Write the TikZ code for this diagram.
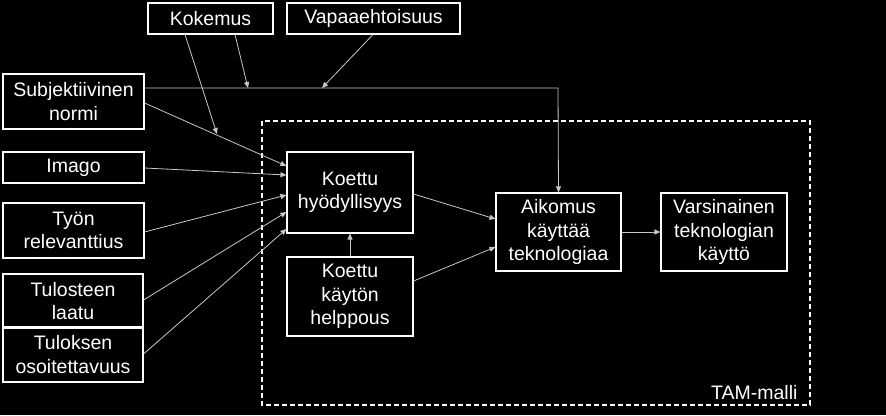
\documentclass[tikz,border=0pt]{standalone}
\usepackage{fontspec}
\setmainfont{Liberation Sans}
\usetikzlibrary{arrows.meta}
\tikzset{
  box/.style={draw=white, line width=1.1pt, text=white, align=center, inner sep=0pt,
    font=\fontsize{19.5}{23.5}\selectfont},
  conn/.style={draw={rgb,255:red,200;green,200;blue,200}, line width=0.8pt,
    -{Triangle[length=6pt,width=5pt]}},
  tam/.style={draw=white, line width=1.2pt, dash pattern=on 5pt off 3pt}
}
\begin{document}
\begin{tikzpicture}[x=1pt,y=-1pt]
\fill[black] (0,0) rectangle (886,415);
\useasboundingbox (0,0) rectangle (886,415);
% TAM dashed frame
\draw[tam] (262,121) rectangle (810,405);
\node[text=white, font=\fontsize{19.5}{23}\selectfont, anchor=east] (tamlbl) at (801,393) {TAM-malli};
% boxes
\node[box, minimum width=125pt, minimum height=31pt] (kok) at (210.5,18.5) {Kokemus};
\node[box, minimum width=173pt, minimum height=31pt] (vap) at (373.5,18.5) {Vapaaehtoisuus};
\node[box, minimum width=141pt, minimum height=55pt] (sub) at (73.5,101.5) {Subjektiivinen\\normi};
\node[box, minimum width=141pt, minimum height=31pt] (ima) at (73.5,167.5) {Imago};
\node[box, minimum width=141pt, minimum height=55pt] (tyo) at (73.5,230.5) {Työn\\relevanttius};
\node[box, minimum width=140pt, minimum height=54pt] (tul) at (73,301) {Tulosteen\\laatu};
\node[box, minimum width=140pt, minimum height=55pt] (tuo) at (73,354.5) {Tuloksen\\osoitettavuus};
\node[box, minimum width=126pt, minimum height=81pt] (kh) at (350,192.5) {Koettu\\hyödyllisyys};
\node[box, minimum width=126pt, minimum height=79pt] (kkh) at (350,296.5) {Koettu\\käytön\\helppous};
\node[box, minimum width=125pt, minimum height=78pt] (aik) at (558.5,232) {Aikomus\\käyttää\\teknologiaa};
\node[box, minimum width=126pt, minimum height=78pt] (var) at (724,232) {Varsinainen\\teknologian\\käyttö};
% helper coordinates
\coordinate (corner) at (558,88);
\coordinate (k1) at (217,134);
\coordinate (k2) at (248,88);
\coordinate (v1) at (322,88);
% connectors
\draw[conn] (sub.east |- 0,88) -- (corner) -- (aik.north);
\draw[conn] (sub.east |- 0,103) -- (kh.west |- 0,166);
\draw[conn] (kok.south -| 185,0) -- (k1);
\draw[conn] (kok.south -| 235,0) -- (k2);
\draw[conn] (vap.south -| 373,0) -- (v1);
\draw[conn] (ima.east |- 0,168) -- (kh.west |- 0,175);
\draw[conn] (tyo.east |- 0,232) -- (kh.west |- 0,195);
\draw[conn] (tul.east |- 0,300) -- (kh.west |- 0,212);
\draw[conn] (tuo.east |- 0,354) -- (kh.west |- 0,229);
\draw[conn] (kh.east |- 0,194) -- (aik.west |- 0,219);
\draw[conn] (kkh.east |- 0,281) -- (aik.west |- 0,247);
\draw[conn] (kkh.north) -- (kh.south);
\draw[conn] (aik.east) -- (var.west);
\end{tikzpicture}
\end{document}
